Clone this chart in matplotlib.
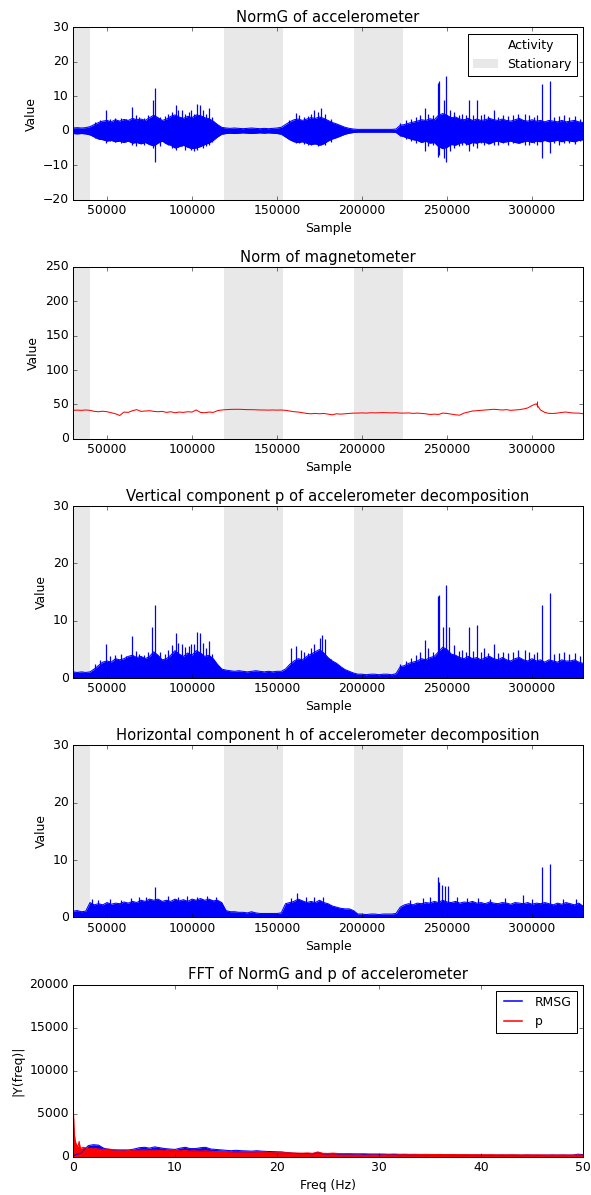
import numpy as np
import matplotlib
matplotlib.use("Agg")
import matplotlib.pyplot as plt
from matplotlib.patches import Patch
from matplotlib.lines import Line2D

plt.style.use('classic')

# sample grid for the envelopes (every 2500 samples)
samples = np.arange(30000, 330001, 2500)
stationary = [(30000, 40000), (119000, 153500), (195000, 224000)]

normg_hi = [0.8, 0.9, 0.8, 0.9, 1.2, 1.8, 2.4, 2.8, 3.0, 2.6,
            3.2, 2.8, 3.3, 3.0, 3.6, 3.2, 3.4, 3.0, 3.8, 4.5,
            3.8, 3.0, 3.4, 4.2, 4.6, 4.0, 3.6, 4.2, 3.8, 4.6,
            4.4, 3.8, 3.5, 2.8, 1.8, 1.0, 0.8, 0.7, 0.8, 0.7,
            0.6, 0.7, 0.8, 0.7, 0.6, 0.7, 0.6, 0.7, 0.8, 1.0,
            1.8, 2.6, 3.2, 3.4, 3.0, 3.4, 3.8, 3.6, 4.0, 3.6,
            3.0, 2.4, 2.0, 1.5, 1.0, 0.7, 0.5, 0.4, 0.4, 0.4,
            0.4, 0.4, 0.4, 0.4, 0.4, 0.4, 0.5, 1.6, 1.8, 2.2,
            2.5, 2.8, 3.2, 3.0, 3.5, 3.2, 4.5, 5.0, 4.5, 3.8,
            4.0, 3.4, 3.2, 3.6, 3.0, 3.4, 3.0, 3.2, 3.6, 3.2,
            3.0, 3.4, 3.0, 2.8, 3.2, 3.6, 3.0, 2.8, 3.2, 2.8,
            3.0, 2.6, 3.0, 2.8, 2.6, 3.0, 2.6, 2.8, 3.0, 2.6,
            2.4]
normg_lo = [-0.8, -0.9, -0.8, -0.9, -1.2, -1.8, -2.4, -2.6, -3.0, -2.8,
            -3.2, -3.0, -3.4, -3.0, -3.6, -3.4, -3.8, -3.4, -4.0, -4.4,
            -3.6, -3.0, -3.8, -4.2, -5.0, -4.6, -4.2, -4.8, -5.2, -5.0,
            -4.6, -4.0, -3.6, -2.8, -1.8, -1.0, -0.8, -0.7, -0.8, -0.7,
            -0.6, -0.7, -0.8, -0.7, -0.6, -0.7, -0.6, -0.7, -0.8, -1.0,
            -1.8, -2.6, -3.2, -3.4, -3.2, -3.6, -4.0, -3.8, -4.2, -3.8,
            -3.0, -2.4, -2.0, -1.5, -1.0, -0.7, -0.5, -0.4, -0.4, -0.4,
            -0.4, -0.4, -0.4, -0.4, -0.4, -0.4, -0.5, -1.4, -1.8, -2.2,
            -2.6, -2.8, -3.4, -3.0, -3.6, -3.4, -4.6, -5.2, -4.8, -4.0,
            -4.2, -3.6, -3.4, -4.0, -3.4, -3.6, -3.2, -3.4, -3.8, -3.2,
            -3.0, -3.4, -3.2, -3.0, -3.4, -3.6, -3.2, -3.0, -3.4, -3.0,
            -3.2, -2.8, -3.2, -3.0, -2.8, -3.2, -2.8, -3.0, -3.2, -2.8,
            -2.6]
# isolated peaks (position, top, bottom)
normg_spike_x = [49500, 64500, 77000, 78300, 90600, 94000, 101000, 103000, 105000, 110000,
                 161000, 172000, 176000, 237000, 244500, 245500, 248500, 249400, 252000,
                 263000, 267500, 277500, 292000, 305800, 310500,
                 43000, 46000, 52000, 55000, 58000, 61000, 67000, 69000, 72000, 74000,
                 81000, 84000, 86000, 88000, 92000, 96000, 98000, 99500, 106500, 108000,
                 112000, 157000, 163000, 166000, 168000, 170000, 174000, 178000, 182000,
                 222500, 226000, 229000, 232000, 234000, 239000, 242000, 254000, 257000,
                 259000, 261000, 265000, 270000, 272000, 274000, 280000, 283000, 286000,
                 289000, 296000, 298000, 301000, 303000, 313000, 316000, 319000, 322000,
                 325000, 328000]
normg_spike_hi = [6.0, 7.0, 9.0, 12.5, 7.6, 6.0, 5.0, 7.8, 7.5, 6.5,
                  5.3, 6.0, 6.5, 6.5, 14.0, 14.5, 9.0, 15.8, 6.0,
                  8.8, 9.0, 6.0, 5.0, 13.5, 14.6,
                  2.5, 3.0, 3.5, 3.6, 3.8, 3.5, 4.5, 4.0, 3.8, 4.5,
                  4.0, 4.2, 5.0, 5.5, 6.0, 5.0, 5.5, 6.0, 6.0, 5.0,
                  4.0, 3.0, 4.5, 4.0, 4.2, 5.0, 5.5, 5.0, 3.5,
                  2.2, 3.0, 3.5, 4.0, 4.5, 5.0, 4.5, 5.5, 4.5,
                  5.0, 4.5, 4.5, 4.5, 5.0, 4.2, 4.0, 4.5, 4.2,
                  4.5, 5.0, 4.5, 4.0, 4.5, 4.0, 4.2, 4.5, 4.0,
                  4.2, 3.5]
normg_spike_lo = [-3.5, -4.0, -5.0, -9.0, -5.5, -4.5, -6.0, -5.5, -4.5, -4.0,
                  -3.5, -3.5, -4.0, -6.0, -7.5, -7.0, -8.0, -9.0, -6.0,
                  -6.0, -5.0, -4.0, -3.5, -7.9, -6.5,
                  -2.0, -2.5, -3.0, -3.2, -3.5, -3.0, -4.5, -3.5, -4.0, -3.5,
                  -4.5, -3.5, -4.0, -5.0, -4.8, -5.5, -4.5, -5.5, -5.0, -4.5,
                  -3.2, -2.5, -3.5, -3.8, -4.2, -4.0, -4.5, -4.2, -3.2,
                  -1.5, -2.5, -3.0, -3.5, -3.0, -4.5, -4.0, -5.0, -4.5,
                  -4.0, -4.0, -4.5, -3.5, -4.0, -3.8, -4.2, -3.5, -4.0,
                  -3.5, -4.0, -4.0, -3.5, -4.0, -3.5, -4.0, -3.6, -3.5,
                  -3.8, -3.0]

mag = [41.5, 41.8, 41.5, 42.0, 41.5, 40.0, 39.5, 40.2, 39.5, 38.0,
       36.5, 34.0, 39.0, 38.5, 41.0, 42.5, 40.0, 40.5, 41.0, 40.0,
       39.5, 40.0, 38.5, 39.5, 38.0, 39.0, 38.5, 39.5, 39.0, 42.0,
       38.5, 38.0, 39.0, 38.5, 41.0, 42.0, 42.5, 42.8, 43.0, 43.0,
       42.8, 42.5, 42.5, 42.3, 42.0, 42.0, 41.8, 42.0, 41.8, 42.0,
       41.5, 40.5, 39.5, 39.0, 38.0, 37.0, 36.5, 37.0, 36.5, 37.0,
       36.0, 35.0, 36.5, 36.0, 36.5, 37.0, 37.5, 37.5, 37.8, 37.5,
       38.0, 37.8, 38.0, 38.2, 38.0, 37.8, 38.0, 37.5, 37.5, 37.8,
       37.0, 37.5, 37.0, 36.5, 35.5, 36.0, 35.5, 37.5, 37.0, 36.0,
       35.0, 34.5, 37.5, 39.0, 40.5, 41.0, 41.5, 42.0, 42.5, 43.0,
       42.5, 42.0, 42.5, 41.5, 42.0, 42.5, 43.5, 45.0, 48.5, 51.0,
       42.0, 38.5, 37.0, 37.0, 37.5, 38.5, 39.0, 38.0, 37.5, 37.5,
       36.5]
mag_spike_x = [303000]
mag_spike_lo = [47.0]
mag_spike_hi = [55.0]

p_hi = [1.1, 1.0, 1.1, 1.0, 1.1, 1.6, 2.2, 2.8, 3.0, 2.8,
        3.4, 3.2, 3.4, 3.8, 4.0, 3.6, 3.8, 3.4, 3.8, 4.6,
        4.0, 3.2, 3.4, 4.0, 4.8, 4.2, 3.8, 4.4, 4.0, 4.8,
        4.4, 3.8, 4.0, 3.4, 2.4, 1.6, 1.4, 1.3, 1.2, 1.3,
        1.2, 1.1, 1.2, 1.3, 1.2, 1.1, 1.2, 1.1, 1.2, 1.2,
        1.6, 2.4, 3.0, 3.4, 3.2, 3.8, 4.2, 4.6, 5.0, 4.4,
        3.6, 3.0, 2.6, 2.0, 1.5, 1.2, 0.9, 0.7, 0.7, 0.6,
        0.7, 0.7, 0.6, 0.7, 0.7, 0.6, 0.8, 2.0, 2.2, 2.6,
        2.8, 3.0, 3.4, 3.2, 3.6, 3.8, 4.6, 5.4, 5.0, 4.2,
        4.0, 3.6, 3.4, 3.8, 3.4, 3.6, 3.2, 3.6, 3.8, 3.4,
        3.2, 3.6, 3.2, 3.0, 3.4, 3.6, 3.2, 3.0, 3.4, 3.0,
        3.2, 2.8, 3.2, 3.0, 2.8, 3.2, 3.0, 3.0, 3.2, 2.8,
        2.6]
p_spike_x = [49500, 64500, 76500, 78300, 90600, 94000, 101000, 103000, 105000, 110000,
             158000, 161000, 164000, 172000, 175000, 176500, 178000, 237000, 244500, 245500,
             247500, 249400, 251000, 263000, 267500, 277500, 292000, 305800, 310500,
             43000, 46000, 52000, 55000, 58000, 61000, 67000, 69000, 72000, 74000,
             81000, 84000, 86000, 88000, 92000, 96000, 98000, 99500, 106500, 108000,
             112000, 166000, 168000, 170000, 182000, 222500, 226000, 229000, 232000,
             234000, 239000, 242000, 254000, 257000, 259000, 261000, 265000, 270000,
             272000, 274000, 280000, 283000, 286000, 289000, 296000, 298000, 301000,
             303000, 313000, 316000, 319000, 322000, 325000, 328000]
p_spike_hi = [6.0, 7.3, 9.0, 12.7, 7.8, 6.0, 6.0, 8.0, 7.8, 6.5,
              5.2, 5.6, 5.0, 6.0, 7.0, 7.5, 6.8, 6.6, 14.3, 14.5,
              9.0, 16.2, 9.0, 9.0, 9.2, 6.0, 5.0, 12.8, 14.8,
              2.4, 3.2, 3.8, 4.0, 4.2, 3.8, 4.8, 4.2, 4.0, 4.6,
              4.5, 4.2, 5.0, 5.8, 6.2, 5.5, 5.6, 6.0, 6.2, 5.2,
              4.2, 4.5, 4.4, 5.2, 3.4, 2.4, 3.0, 3.6, 4.0,
              4.6, 5.2, 4.6, 5.8, 4.8, 5.0, 4.6, 4.8, 4.6,
              5.2, 4.4, 4.4, 4.6, 4.4, 4.6, 5.0, 4.6, 4.2,
              4.6, 4.2, 4.4, 4.6, 4.2, 4.4, 3.8]

h_hi = [1.1, 1.2, 1.0, 1.1, 2.6, 2.2, 2.4, 2.2, 2.6, 2.3,
        2.5, 2.4, 2.7, 2.5, 2.8, 2.6, 3.0, 2.8, 3.2, 3.0,
        3.2, 2.8, 3.0, 2.8, 3.2, 2.9, 3.1, 2.8, 3.2, 3.0,
        3.3, 3.0, 3.2, 2.9, 3.0, 2.6, 1.2, 1.0, 1.0, 0.9,
        0.9, 0.8, 1.0, 0.8, 0.7, 0.7, 0.7, 0.7, 0.7, 0.8,
        2.4, 2.6, 2.8, 3.2, 2.9, 2.6, 2.8, 2.6, 3.0, 2.6,
        2.4, 2.0, 1.8, 1.6, 1.5, 1.5, 1.2, 0.6, 0.6, 0.5,
        0.6, 0.6, 0.5, 0.6, 0.6, 0.6, 0.7, 1.8, 2.2, 2.4,
        2.2, 2.5, 2.4, 2.6, 2.5, 2.8, 2.6, 3.0, 2.7, 2.6,
        2.8, 2.5, 2.7, 2.6, 2.8, 2.5, 2.6, 2.4, 2.7, 2.5,
        2.4, 2.6, 2.5, 2.3, 2.6, 2.5, 2.4, 2.6, 2.3, 2.5,
        2.4, 2.6, 2.4, 2.2, 2.5, 2.3, 2.6, 2.4, 2.2, 2.5,
        2.0]
h_spike_x = [41000, 78300, 162000, 177000, 228000, 244500, 245500, 247300, 249000, 250500,
             294700, 305800, 310300,
             45000, 52000, 58000, 64000, 69000, 73000, 86000, 92000, 97000, 103000,
             109000, 114000, 158000, 167000, 172000, 236000, 240000, 256000, 262000,
             268000, 275000, 284000, 300000, 318000, 326000]
h_spike_hi = [3.2, 5.3, 4.2, 3.5, 3.0, 7.0, 6.2, 5.6, 5.4, 5.4,
              4.0, 8.8, 9.4,
              3.0, 3.2, 3.1, 3.4, 3.5, 3.6, 3.8, 3.6, 3.7, 3.6,
              3.8, 3.5, 3.4, 3.6, 3.5, 3.4, 3.6, 3.5, 3.4,
              3.4, 3.3, 3.4, 3.2, 3.3, 3.2]

# FFT magnitudes: low-frequency points, then every 0.5 Hz from 1 to 50
fft_low_freq = [0.0, 0.05, 0.1, 0.15, 0.2, 0.3, 0.4, 0.5, 0.6, 0.7, 0.8]
fft_freq = np.concatenate([fft_low_freq, np.arange(1.0, 50.01, 0.5)])
rmsg_fft = [300, 200, 150, 150, 200, 250, 300, 350, 350, 400, 400,
            700, 1300, 1400, 1350, 1000, 850, 800, 780, 750, 800,
            900, 1050, 1100, 1000, 1150, 1050, 950, 900, 850, 1000,
            1100, 950, 950, 1050, 1100, 900, 850, 800, 750, 700,
            750, 700, 680, 650, 700, 650, 620, 600, 580, 560,
            480, 430, 380, 370, 390, 350, 500, 350, 340, 370,
            330, 310, 330, 300, 310, 280, 270, 290, 260, 280,
            250, 260, 240, 250, 230, 240, 230, 220, 230, 210,
            220, 220, 210, 200, 210, 200, 190, 210, 200, 190,
            200, 190, 200, 190, 200, 190, 180, 200, 190, 180,
            190, 190, 200, 190, 200, 190, 200, 300, 250]
p_fft = [6500, 5000, 3500, 2500, 2000, 1500, 1300, 1200, 1800, 1100, 1000,
         1100, 950, 1000, 900, 850, 900, 800, 780, 800, 750,
         780, 760, 800, 740, 780, 720, 760, 700, 720, 700,
         740, 680, 700, 660, 700, 640, 620, 600, 620, 580,
         560, 580, 540, 560, 520, 500, 520, 480, 470, 460,
         480, 440, 430, 420, 440, 400, 560, 400, 390, 420,
         380, 360, 380, 350, 340, 360, 330, 320, 330, 310,
         300, 320, 290, 300, 280, 290, 270, 280, 270, 260,
         270, 250, 260, 250, 240, 250, 240, 230, 240, 230,
         240, 220, 230, 220, 230, 220, 210, 220, 210, 220,
         210, 200, 210, 200, 210, 200, 200, 210, 200]

fig, axes = plt.subplots(5, 1, figsize=(8, 16.176), dpi=73.875)
fig.patch.set_facecolor('white')
fig.subplots_adjust(left=0.1235, right=0.9865, top=0.977, bottom=0.032, hspace=0.39)

def shade(ax):
    for a, b in stationary:
        ax.axvspan(a, b, color='lightgray', alpha=0.5, lw=0)

# NormG
ax = axes[0]
shade(ax)
ax.fill_between(samples, normg_lo, normg_hi, color='b', lw=0)
ax.plot(samples, normg_hi, color='b', lw=1)
ax.plot(samples, normg_lo, color='b', lw=1)
ax.vlines(normg_spike_x, normg_spike_lo, normg_spike_hi, color='b', lw=1.2)
ax.set_ylim(-20, 30)
ax.set_yticks([-20, -10, 0, 10, 20, 30])
ax.set_title("NormG of accelerometer")
handles = [Patch(facecolor='white', edgecolor='white'),
           Patch(facecolor='lightgray', alpha=0.5, edgecolor='none')]
ax.legend(handles, ["Activity", "Stationary"], loc='upper right', fontsize=12)

# magnetometer
ax = axes[1]
shade(ax)
ax.plot(samples, mag, color='r', lw=1)
ax.vlines(mag_spike_x, mag_spike_lo, mag_spike_hi, color='r', lw=1)
ax.set_ylim(0, 250)
ax.set_title("Norm of magnetometer")

# p
ax = axes[2]
shade(ax)
ax.fill_between(samples, 0, p_hi, color='b', lw=0)
ax.plot(samples, p_hi, color='b', lw=1)
ax.vlines(p_spike_x, 0, p_spike_hi, color='b', lw=1.2)
ax.set_ylim(0, 30)
ax.set_yticks([0, 10, 20, 30])
ax.set_title("Vertical component p of accelerometer decomposition")

# h
ax = axes[3]
shade(ax)
ax.fill_between(samples, 0, h_hi, color='b', lw=0)
ax.plot(samples, h_hi, color='b', lw=1)
ax.vlines(h_spike_x, 0, h_spike_hi, color='b', lw=1.2)
ax.set_ylim(0, 30)
ax.set_yticks([0, 10, 20, 30])
ax.set_title("Horizontal component h of accelerometer decomposition")

for ax in axes[:4]:
    ax.set_xlim(30000, 330000)
    ax.set_xticks([50000, 100000, 150000, 200000, 250000, 300000])
    ax.set_xlabel("Sample")
    ax.set_ylabel("Value")

# FFT
ax = axes[4]
ax.fill_between(fft_freq, 0, rmsg_fft, color='b', lw=0)
ax.plot(fft_freq, rmsg_fft, color='b', lw=1)
ax.fill_between(fft_freq, 0, p_fft, color='r', lw=0)
ax.plot(fft_freq, p_fft, color='r', lw=1)
ax.set_xlim(0, 50)
ax.set_ylim(0, 20000)
ax.set_title("FFT of NormG and p of accelerometer")
ax.set_xlabel("Freq (Hz)")
ax.set_ylabel("|Y(freq)|")
fft_handles = [Line2D([], [], color='b', lw=1.5), Line2D([], [], color='r', lw=1.5)]
ax.legend(fft_handles, ["RMSG", "p"], loc='upper right', fontsize=12)

fig.savefig("out.png", dpi=73.875, facecolor='white')
